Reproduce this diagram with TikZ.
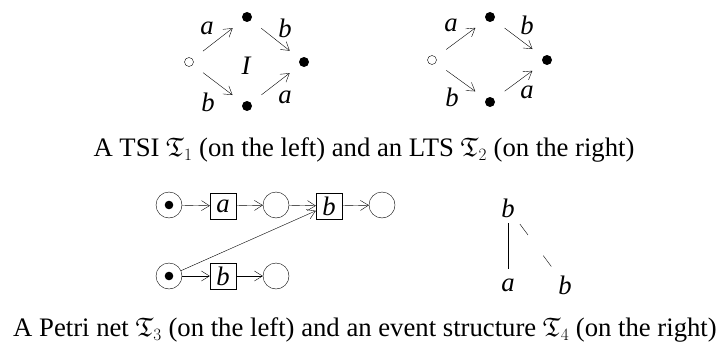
\documentclass[tikz,border=0pt]{standalone}
\usepackage{amssymb}
\usepackage{fontspec}
\setmainfont{Liberation Serif}
\usetikzlibrary{arrows.meta}
\tikzset{
  st/.style={circle, draw, inner sep=0pt, minimum size=9pt},
  full/.style={circle, fill, inner sep=0pt, minimum size=10pt},
  tr/.style={-{Straight Barb[length=8pt,width=10pt]}, shorten <=13pt, shorten >=13pt},
  lbl/.style={inner sep=0pt, font=\itshape},
  place/.style={circle, draw, inner sep=0pt, minimum size=26pt},
  marked/.style={place, path picture={\fill (path picture bounding box.center) circle (4.3pt);}},
  trans/.style={rectangle, draw, inner sep=0pt, minimum size=26pt, font=\itshape},
  arc/.style={-{Straight Barb[length=8pt,width=10pt]}},
  ev/.style={inner sep=0pt, font=\itshape},
  caption/.style={anchor=base}
}
\begin{document}
\fontsize{26.7}{30}\selectfont
\begin{tikzpicture}[x=1pt, y=-1pt]
    \useasboundingbox (0,0) rectangle (719,345);
    % TSI
    \node (o1) at (189,62) [st] {};
    \node (u1) at (247,17) [full] {};
    \node (r1) at (304,62) [full] {};
    \node (d1) at (247,106) [full] {};
    \draw[tr] (o1) -- (u1) node[lbl] at (207,28) {a};
    \draw[tr] (u1) -- (r1) node[lbl] at (285,28) {b};
    \draw[tr] (o1) -- (d1) node[lbl] at (208,102) {b};
    \draw[tr] (d1) -- (r1) node[lbl] at (285,97) {a};
    \node[lbl] (i1) at (246,66) {I};
    % LTS
    \node (o2) at (432,60) [st] {};
    \node (u2) at (490,17) [full] {};
    \node (r2) at (547,60) [full] {};
    \node (d2) at (490,102) [full] {};
    \draw[tr] (o2) -- (u2) node[lbl] at (451,25) {a};
    \draw[tr] (u2) -- (r2) node[lbl] at (527,25) {b};
    \draw[tr] (o2) -- (d2) node[lbl] at (452,97) {b};
    \draw[tr] (d2) -- (r2) node[lbl] at (527,92) {a};
    \node[caption] (c1) at (364,156.5) {A TSI $\mathfrak{T}_1$ (on the left) and an LTS $\mathfrak{T}_2$ (on the right)};
    % Petri net
    \node (p1) at (169,205) [marked] {};
    \node (ta) at (223,206) [trans] {a};
    \node (p2) at (276,205) [place] {};
    \node (tb) at (329,206) [trans] {b};
    \node (p3) at (382,205) [place] {};
    \node (p4) at (169,276) [marked] {};
    \node (tc) at (223,276) [trans] {b};
    \node (p5) at (276,276) [place] {};
    \draw[arc] (p1) -- (ta);
    \draw[arc] (ta) -- (p2);
    \draw[arc] (p2) -- (tb);
    \draw[arc] (tb) -- (p3);
    \draw[arc] (p4) -- (tc);
    \draw[arc] (tc) -- (p5);
    \draw[arc] (p4) -- (tb.200);
    % event structure
    \node (eb) at (508,208) [ev] {b};
    \node (ea) at (508,285) [ev] {a};
    \node (ec) at (565,285) [ev] {b};
    \draw[shorten <=15pt, shorten >=16pt] (eb.center) -- (ea.center);
    \draw[dash pattern=on 13.5pt off 25.8pt, shorten <=20pt, shorten >=22.6pt] (eb.center) -- (ec.center);
    \node[caption] (c2) at (365,336.5) {A Petri net $\mathfrak{T}_3$ (on the left) and an event structure $\mathfrak{T}_4$ (on the right)};
\end{tikzpicture}
\end{document}
